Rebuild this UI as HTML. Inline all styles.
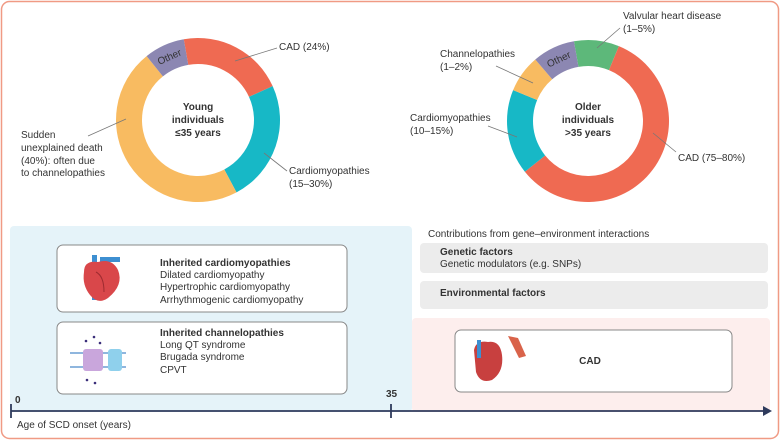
<!DOCTYPE html>
<html><head><meta charset="utf-8">
<style>
body{margin:0;width:780px;height:440px;overflow:hidden;background:#fff;font-family:"Liberation Sans",sans-serif;}
svg text{font-family:"Liberation Sans",sans-serif;font-size:10px;fill:#333;}
.b{font-weight:bold;}
</style></head><body>
<svg width="780" height="440" viewBox="0 0 780 440">
<rect x="1.5" y="1.5" width="777" height="437" rx="8" fill="#fff" stroke="#f09a84" stroke-width="1.5"/>
<g id="donut1"></g>
<g id="donut2"></g>
<g>
<text x="198" y="110" text-anchor="middle" class="b">Young</text>
<text x="198" y="123" text-anchor="middle" class="b">individuals</text>
<text x="198" y="136" text-anchor="middle" class="b">≤35 years</text>
<line x1="235" y1="61" x2="277" y2="48" stroke="#777" stroke-width="0.8"/>
<text x="279" y="50">CAD (24%)</text>
<line x1="126" y1="119" x2="88" y2="136" stroke="#777" stroke-width="0.8"/>
<text x="21" y="138">Sudden</text>
<text x="21" y="151">unexplained death</text>
<text x="21" y="164">(40%): often due</text>
<text x="21" y="176">to channelopathies</text>
<line x1="264" y1="153" x2="287" y2="171" stroke="#777" stroke-width="0.8"/>
<text x="289" y="174">Cardiomyopathies</text>
<text x="289" y="187">(15–30%)</text>
</g>
<g>
<text x="588" y="110" text-anchor="middle" class="b">Older</text>
<text x="588" y="123" text-anchor="middle" class="b">individuals</text>
<text x="588" y="136" text-anchor="middle" class="b">&gt;35 years</text>
<line x1="597" y1="48" x2="620" y2="28" stroke="#777" stroke-width="0.8"/>
<text x="623" y="19">Valvular heart disease</text>
<text x="623" y="32">(1–5%)</text>
<line x1="533" y1="83" x2="496" y2="66" stroke="#777" stroke-width="0.8"/>
<text x="440" y="57">Channelopathies</text>
<text x="440" y="70">(1–2%)</text>
<line x1="517" y1="137" x2="488" y2="126" stroke="#777" stroke-width="0.8"/>
<text x="410" y="121">Cardiomyopathies</text>
<text x="410" y="134">(10–15%)</text>
<line x1="653" y1="133" x2="676" y2="152" stroke="#777" stroke-width="0.8"/>
<text x="678" y="161">CAD (75–80%)</text>
</g>
<rect x="10" y="226" width="402" height="186" rx="4" fill="#e5f3f9"/>
<rect x="412" y="318" width="358" height="94" rx="4" fill="#fdeeed"/>
<text x="428" y="237">Contributions from gene–environment interactions</text>
<rect x="420" y="243" width="348" height="30" rx="4" fill="#ececec"/>
<text x="440" y="255" class="b">Genetic factors</text>
<text x="440" y="267">Genetic modulators (e.g. SNPs)</text>
<rect x="420" y="281" width="348" height="28" rx="4" fill="#ececec"/>
<text x="440" y="296" class="b">Environmental factors</text>
<rect x="57" y="245" width="290" height="67" rx="6" fill="#fff" stroke="#888" stroke-width="1"/>
<g>
<rect x="92" y="255" width="5" height="45" fill="#3d8fd1"/>
<rect x="100" y="257" width="20" height="5" fill="#3d8fd1"/>
<path d="M84 272 Q84 260 98 262 Q112 258 118 270 Q124 285 108 298 Q98 305 90 295 Q82 285 84 272Z" fill="#d9474a"/>
<path d="M96 272 Q104 276 104 292" stroke="#9e2b30" fill="none"/>
</g>
<text x="160" y="266" class="b">Inherited cardiomyopathies</text>
<text x="160" y="278">Dilated cardiomyopathy</text>
<text x="160" y="290">Hypertrophic cardiomyopathy</text>
<text x="160" y="303">Arrhythmogenic cardiomyopathy</text>
<rect x="57" y="322" width="290" height="72" rx="6" fill="#fff" stroke="#888" stroke-width="1"/>
<g>
<rect x="70" y="352" width="56" height="2" fill="#8fb6de"/><rect x="70" y="366" width="56" height="2" fill="#8fb6de"/>
<rect x="83" y="349" width="20" height="22" rx="3" fill="#c9a6dc"/>
<rect x="108" y="349" width="14" height="22" rx="3" fill="#8fd0ec"/>
<circle cx="86" cy="341" r="1.3" fill="#3b2e7a"/><circle cx="94" cy="337" r="1.3" fill="#3b2e7a"/><circle cx="100" cy="343" r="1.3" fill="#3b2e7a"/>
<circle cx="87" cy="380" r="1.3" fill="#3b2e7a"/><circle cx="95" cy="383" r="1.3" fill="#3b2e7a"/>
</g>
<text x="160" y="336" class="b">Inherited channelopathies</text>
<text x="160" y="348">Long QT syndrome</text>
<text x="160" y="360">Brugada syndrome</text>
<text x="160" y="373">CPVT</text>
<rect x="455" y="330" width="277" height="62" rx="6" fill="#fff" stroke="#888" stroke-width="1"/>
<g>
<path d="M474 350 Q476 340 488 342 Q500 340 502 355 Q504 372 492 380 Q480 384 476 372Z" fill="#c8403f"/>
<rect x="477" y="340" width="4" height="18" fill="#3d8fd1"/>
<path d="M508 336 L518 338 L526 356 L519 358 Z" fill="#d9634a"/>
</g>
<text x="590" y="364" class="b" text-anchor="middle">CAD</text>
<g>
<line x1="11" y1="411" x2="766" y2="411" stroke="#2e3a5c" stroke-width="1.8"/>
<path d="M772 411 L763 406 L763 416 Z" fill="#2e3a5c"/>
<line x1="11" y1="404" x2="11" y2="418" stroke="#2e3a5c" stroke-width="1.8"/>
<line x1="391" y1="404" x2="391" y2="418" stroke="#2e3a5c" stroke-width="1.8"/>
<text x="15" y="403" class="b">0</text>
<text x="386" y="397" class="b">35</text>
<text x="17" y="428">Age of SCD onset (years)</text>
</g>
</svg>
<script>
const youngCats=["CAD","Cardiomyopathies","Sudden unexplained death","Other"];
const youngVals=[21,24,47,8];
const olderCats=["Valvular heart disease","CAD","Cardiomyopathies","Channelopathies","Other"];
const olderVals=[9,58,17,7.5,8.5];
const colorMap={"CAD":"#ef6a52","Cardiomyopathies":"#17b8c6","Sudden unexplained death":"#f8bb61","Other":"#8c87b2","Valvular heart disease":"#5db87a","Channelopathies":"#f8bb61"};
const NS="http://www.w3.org/2000/svg";
function pt(cx,cy,r,a){const t=(a-90)*Math.PI/180;return [cx+r*Math.cos(t),cy+r*Math.sin(t)];}
function donut(id,cats,vals,cx,cy,ro,ri,start){
  const g=document.getElementById(id);const tot=vals.reduce((a,b)=>a+b,0);let a=start;
  cats.forEach((c,i)=>{const sw=vals[i]/tot*360;const a2=a+sw;const L=sw>180?1:0;
    const p1=pt(cx,cy,ro,a),p2=pt(cx,cy,ro,a2),p3=pt(cx,cy,ri,a2),p4=pt(cx,cy,ri,a);
    const p=document.createElementNS(NS,"path");
    p.setAttribute("d",`M${p1} A${ro},${ro} 0 ${L} 1 ${p2} L${p3} A${ri},${ri} 0 ${L} 0 ${p4}Z`);
    p.setAttribute("fill",colorMap[c]);
    
    
    g.appendChild(p);
    if(c==="Other"){const m=a+sw/2;const q=pt(cx,cy,(ro+ri)/2,m);
      const t=document.createElementNS(NS,"text");t.textContent="Other";
      t.setAttribute("x",q[0]);t.setAttribute("y",q[1]+3);t.setAttribute("text-anchor","middle");
      t.setAttribute("font-size","9");t.setAttribute("transform",`rotate(${m} ${q[0]} ${q[1]})`);
      
      
      g.appendChild(t);}
    a=a2;});
}
donut("donut1",youngCats,youngVals,198,120,82,56,-10);
donut("donut2",olderCats,olderVals,588,121,81,55,-10);
</script>
</body></html>
